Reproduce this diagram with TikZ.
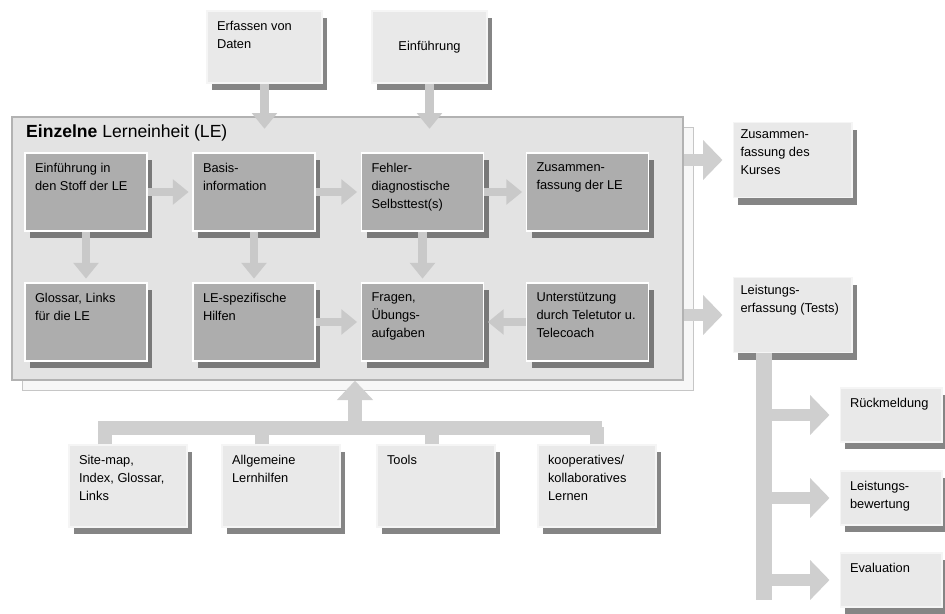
\documentclass[tikz,border=0pt]{standalone}
\usepackage{fontspec}
\setmainfont{Liberation Sans}
\usetikzlibrary{arrows.meta,shadows}

\newcommand{\boxtext}[4][t]{\parbox[t][#3][#1]{#2}{\raggedright #4}}

\begin{document}
\begin{tikzpicture}[x=0.02cm, y=-0.02cm,
	font=\fontsize{7.3}{10.2}\selectfont,
	shadowed/.style={drop shadow={shadow xshift=3pt, shadow yshift=-4pt, opacity=0.6, fill=black!80}},
	lebox/.style={shadowed, fill=gray!64, draw=white, line width=1pt, inner sep=0.2cm},
	outbox/.style={shadowed, fill=gray!17, draw=gray!8, line width=0.6pt, inner sep=0.2cm},
	fat/.style={draw=gray!42, line width=5pt, -{Triangle[length=9pt, width=14pt]}, shorten >=2pt},
	bigfat/.style={draw=gray!38, line width=7pt, -{Triangle[length=11pt, width=22pt]}, shorten >=0.2cm},
	bar/.style={draw=gray!38, line width=8pt},
]
	\useasboundingbox (0,0) rectangle (945,613);

	% Lerneinheit (frame and its shadow)
	\node[draw=gray!45, fill=gray!6, minimum width=13.42cm, minimum height=5.26cm] (lesh) at (357.5,258.5) {};
	\node[draw=gray!60, fill=gray!22, line width=0.8pt, minimum width=13.42cm, minimum height=5.26cm] (le) at (347.5,248.5) {};
	\node[anchor=north west, font=\fontsize{10}{12}\selectfont] (letitle) at (20,119) {\textbf{Einzelne} Lerneinheit (LE)};

	% inputs from above
	\node[outbox] (erf) at (264.5,47) {\boxtext{1.9cm}{1.04cm}{Erfassen von\\Daten}};
	\node[outbox] (einf) at (429.5,47) {\boxtext[c]{1.9cm}{1.04cm}{\centering Einführung}};
	\draw[fat] (erf.south) -- (erf.south |- le.north) -- ++(0,16);
	\draw[fat] (einf.south) -- (einf.south |- le.north) -- ++(0,16);

	% boxes of the LE
	\node[lebox] (stoff) at (86,192) {\boxtext{2.04cm}{1.16cm}{Einführung in\\den Stoff der LE}};
	\node[lebox] (basis) at (254,192) {\boxtext{2.04cm}{1.16cm}{Basis-\\information}};
	\node[lebox] (test) at (422.5,192) {\boxtext{2.04cm}{1.16cm}{Fehler-\\diagnostische\\Selbsttest(s)}};
	\node[lebox] (zle) at (587.5,192) {\boxtext{2.04cm}{1.16cm}{Zusammen-\\fassung der LE}};
	\node[lebox] (gloss) at (86,322) {\boxtext{2.04cm}{1.16cm}{Glossar, Links\\für die LE}};
	\node[lebox] (hilfe) at (254,322) {\boxtext{2.04cm}{1.16cm}{LE-spezifische\\Hilfen}};
	\node[lebox] (fragen) at (422.5,322) {\boxtext{2.04cm}{1.16cm}{Fragen,\\Übungs-\\aufgaben}};
	\node[lebox] (tutor) at (587.5,322) {\boxtext{2.04cm}{1.16cm}{Unterstützung\\durch Teletutor u.\\Telecoach}};

	\draw[fat] (stoff) -- (basis);
	\draw[fat] (basis) -- (test);
	\draw[fat] (test) -- (zle);
	\draw[fat] (stoff) -- (gloss);
	\draw[fat] (basis) -- (hilfe);
	\draw[fat] (test) -- (fragen);
	\draw[fat] (hilfe) -- (fragen);
	\draw[fat] (tutor) -- (fragen);

	% outputs to the right
	\node[outbox, inner sep=0.15cm] (kurs) at (792.5,160) {\boxtext{2.08cm}{1.2cm}{Zusammen-\\fassung des\\Kurses}};
	\node[outbox, inner sep=0.15cm] (tests) at (792.5,315) {\boxtext{2.08cm}{1.2cm}{Leistungs-\\erfassung (Tests)}};
	\draw[bigfat] (le.east |- kurs) -- (kurs);
	\draw[bigfat] (le.east |- tests) -- (tests);

	\node[outbox] (rueck) at (891,415) {\boxtext{1.64cm}{0.68cm}{Rückmeldung}};
	\node[outbox] (bewert) at (891,498) {\boxtext{1.64cm}{0.68cm}{Leistungs-\\bewertung}};
	\node[outbox] (eval) at (891,580) {\boxtext{1.64cm}{0.68cm}{Evaluation}};
	\coordinate (rbus) at (764,600);
	\draw[bar, line width=9pt] (tests.south -| rbus) -- (rbus);
	\draw[bigfat] (rbus |- rueck) -- (rueck);
	\draw[bigfat] (rbus |- bewert) -- (bewert);
	\draw[bigfat] (rbus |- eval) -- (eval);

	% inputs from below
	\node[outbox] (site) at (128,486) {\boxtext{1.96cm}{1.24cm}{Site-map,\\Index, Glossar,\\Links}};
	\node[outbox] (lhilf) at (281,486) {\boxtext{1.96cm}{1.24cm}{Allgemeine\\Lernhilfen}};
	\node[outbox] (tools) at (436,486) {\boxtext{1.96cm}{1.24cm}{Tools}};
	\node[outbox] (koop) at (597,486) {\boxtext{1.96cm}{1.24cm}{kooperatives/\\kollaboratives\\Lernen}};
	\coordinate (busl) at (98,428);
	\coordinate (busr) at (602,428);
	\coordinate (bus) at (355,428);
	\draw[bar] (busl) -- (busr);
	\draw[bar] ([xshift=-0.46cm]site.north) -- ++(0,-17);
	\draw[bar] ([xshift=-0.38cm]lhilf.north) -- ++(0,-17);
	\draw[bar] ([xshift=-0.08cm]tools.north) -- ++(0,-17);
	\draw[bar] (koop.north) -- ++(0,-17);
	\draw[bar, -{Triangle[length=11pt, width=20pt]}] (bus) -- (bus |- le.south);
\end{tikzpicture}
\end{document}
